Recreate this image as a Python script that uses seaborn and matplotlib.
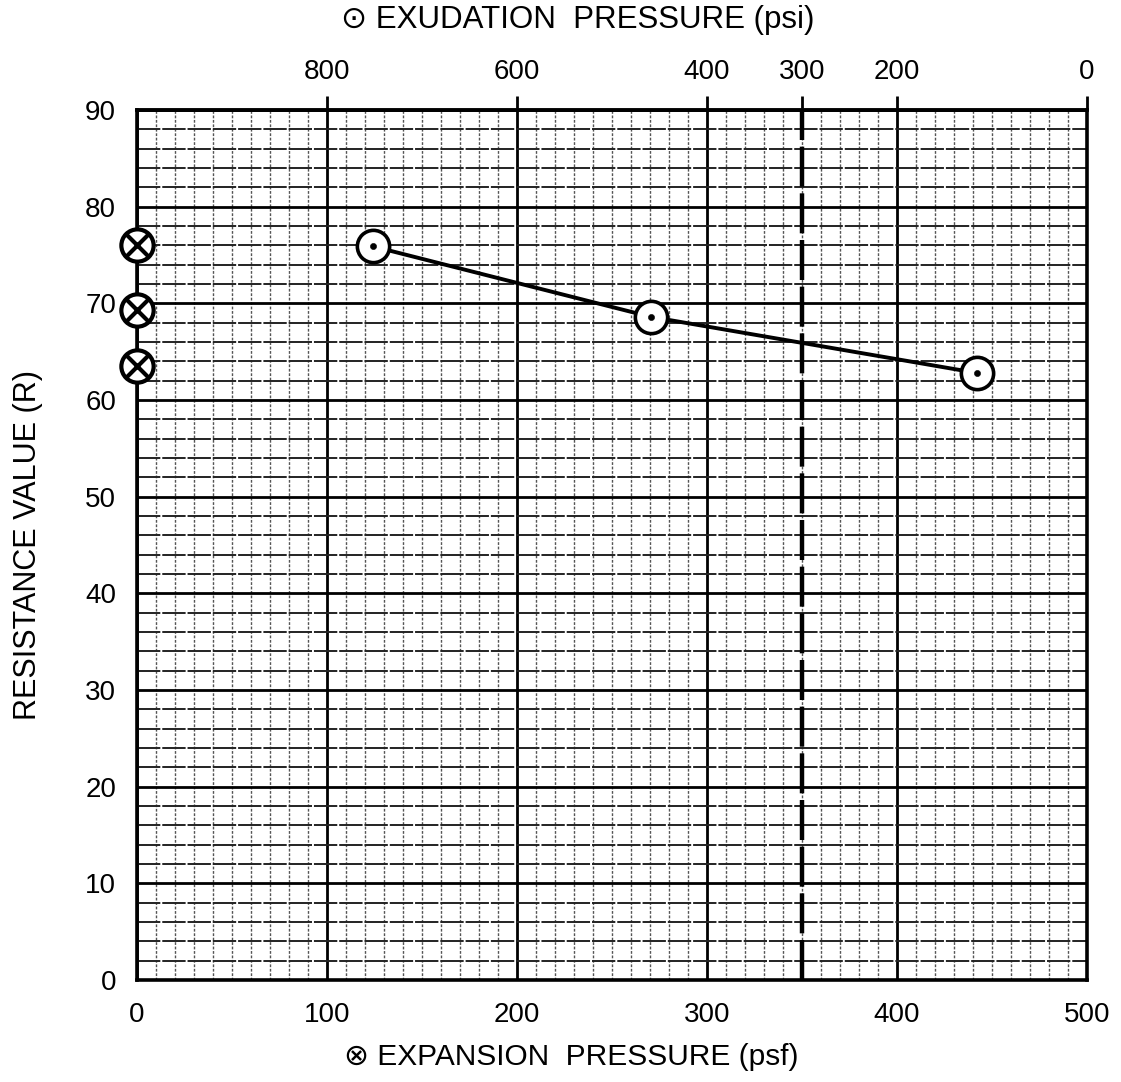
import matplotlib
matplotlib.use("Agg")
import matplotlib.pyplot as plt
from matplotlib.ticker import MultipleLocator, FixedLocator
import seaborn as sns
import pandas as pd

# ---- data ----
exud_x_psf = [124, 270.5, 442]          # position on expansion (psf) scale
exud_r = [75.9, 68.6, 62.8]
expan_x = [0, 0, 0]
expan_r = [76.0, 69.3, 63.5]
top_ticks_psi = [800, 600, 400, 300, 200, 0]
bottom_ticks = [0, 100, 200, 300, 400, 500]
y_ticks = [0, 10, 20, 30, 40, 50, 60, 70, 80, 90]
limit_psi = 300

sns.set_style("white")
plt.rcParams['font.family'] = ['Liberation Sans', 'DejaVu Sans']
plt.rcParams['text.color'] = 'black'
plt.rcParams['axes.labelcolor'] = 'black'
plt.rcParams['xtick.color'] = 'black'
plt.rcParams['ytick.color'] = 'black'

fig = plt.figure(figsize=(11.21, 10.82), dpi=100)
ax = fig.add_axes([137/1121, 102/1082, 950/1121, 870/1082])

def psi_to_psf(p):
    return (1000 - p) / 2.0

def psf_to_psi(x):
    return 1000 - 2.0 * x

ax.set_xlim(0, 500)
ax.set_ylim(0, 90)

# grid
ax.xaxis.set_major_locator(FixedLocator(bottom_ticks))
ax.yaxis.set_major_locator(FixedLocator(y_ticks))
ax.xaxis.set_minor_locator(MultipleLocator(10))
ax.yaxis.set_minor_locator(MultipleLocator(2))
ax.grid(which='major', axis='both', color='black', lw=2.0, zorder=1)
ax.grid(which='minor', axis='x', color='#555555', lw=1.0, ls=(0, (2, 1.2)), zorder=0.5)
ax.grid(which='minor', axis='y', color='#222222', lw=1.4, ls=(0, (12, 1.0)), zorder=0.5)
ax.set_axisbelow(True)

for s in ax.spines.values():
    s.set_linewidth(2.6)
    s.set_color('black')

ax.tick_params(axis='both', which='major', length=10, width=2, labelsize=20, color='black',
               labelcolor='black')
ax.tick_params(axis='both', which='minor', length=0)
ax.tick_params(axis='x', pad=6)
ax.tick_params(axis='y', pad=5)

# dashed limit line at 300 psi
ax.axvline(psi_to_psf(limit_psi), color='black', lw=3.2, ls=(0, (9, 1.5)), zorder=2)

df = pd.DataFrame({'x': exud_x_psf, 'r': exud_r})
sns.lineplot(data=df, x='x', y='r', ax=ax, color='black', lw=2.8, zorder=3)
sns.scatterplot(data=df, x='x', y='r', ax=ax, marker='o', s=540, facecolor='white',
                edgecolor='black', linewidth=2.6, zorder=4)
sns.scatterplot(data=df, x='x', y='r', ax=ax, marker='o', s=20, color='black',
                edgecolor='black', zorder=5)

df2 = pd.DataFrame({'x': expan_x, 'r': expan_r})
sns.scatterplot(data=df2, x='x', y='r', ax=ax, marker='o', s=540, facecolor='white',
                edgecolor='black', linewidth=3.0, zorder=4, clip_on=False)
sns.scatterplot(data=df2, x='x', y='r', ax=ax, marker='x', s=230, color='black',
                linewidth=3.0, zorder=5, clip_on=False)

ax.set_xlabel('')
ax.set_ylabel('RESISTANCE VALUE (R)', fontsize=22, labelpad=30, color='black')

# top axis
top = ax.secondary_xaxis('top', functions=(psf_to_psi, psi_to_psf))
top.xaxis.set_major_locator(FixedLocator(top_ticks_psi))
top.tick_params(axis='x', length=10, width=2, labelsize=20, pad=8, labelcolor='black')
top.spines['top'].set_linewidth(2.6)

fig.text(0.515, 1 - 20/1082, '⊙ EXUDATION  PRESSURE (psi)', ha='center', va='center', fontsize=22.5)
fig.text(0.51, 1 - 1057/1082, '⊗ EXPANSION  PRESSURE (psf)', ha='center', va='center', fontsize=21.5)

fig.savefig('out.png', dpi=100, facecolor='white')
